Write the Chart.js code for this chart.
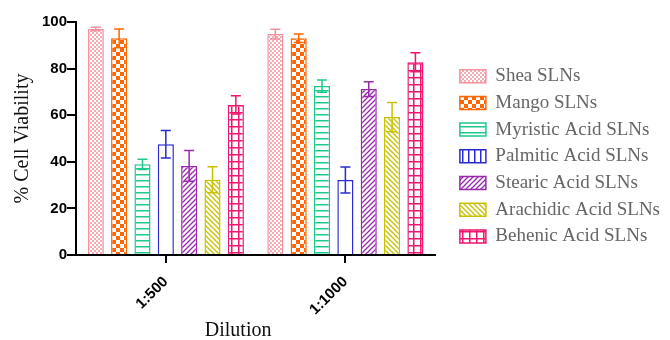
<!DOCTYPE html>
<html><head><meta charset="utf-8">
<script src="https://cdn.jsdelivr.net/npm/chart.js@4"></script>
<style>html,body{margin:0;padding:0;background:#fff}#wrap{width:670px;height:340px}</style>
</head><body><div id="wrap"><canvas id="c" width="670" height="340"></canvas></div>
<script>
const categories = ['1:500', '1:1000'];
const seriesNames = ['Shea SLNs','Mango SLNs','Myristic Acid SLNs','Palmitic Acid SLNs','Stearic Acid SLNs','Arachidic Acid SLNs','Behenic Acid SLNs'];
const shea = [97.0, 94.8];
const mango = [93.0, 93.0];
const myristic = [38.9, 72.5];
const palmitic = [47.5, 32.2];
const stearic = [38.2, 71.2];
const arachidic = [32.3, 59.2];
const behenic = [64.4, 82.7];
const sheaErr = [0.8, 2.1];
const mangoErr = [4.0, 1.8];
const myristicErr = [2.2, 2.6];
const palmiticErr = [5.9, 5.6];
const stearicErr = [6.6, 3.2];
const arachidicErr = [5.6, 6.3];
const behenicErr = [3.9, 4.1];
const yTicks = [0, 20, 40, 60, 80, 100];

function mk(w, h, draw) {
  const c = document.createElement('canvas'); c.width = w; c.height = h;
  const x = c.getContext('2d'); x.fillStyle = '#fff'; x.fillRect(0, 0, w, h);
  draw(x); return x.createPattern(c, 'repeat');
}
const ctx0 = document.getElementById('c').getContext('2d');
const styles = [
  {col:'#f4919c', pat: mk(4,4,x=>{x.fillStyle='#f6aab2';x.fillRect(0,0,2,2);x.fillRect(2,2,2,2);})},
  {col:'#ff6600', pat: mk(8,8,x=>{x.fillStyle='#ff6600';x.fillRect(0,0,4,4);x.fillRect(4,4,4,4);})},
  {col:'#1ec98a', pat: mk(6,6,x=>{x.fillStyle='#1ec98a';x.fillRect(0,0,6,1.5);})},
  {col:'#2a2ad0', pat: mk(40,6,x=>{}), leg: mk(6.5,6,x=>{x.fillStyle='#2a2ad0';x.fillRect(0,0,1.5,6);})},
  {col:'#9b27ae', pat: mk(5,5,x=>{x.strokeStyle='#9b27ae';x.lineWidth=1.3;x.beginPath();x.moveTo(0,5);x.lineTo(5,0);x.moveTo(-1,1);x.lineTo(1,-1);x.moveTo(4,6);x.lineTo(6,4);x.stroke();})},
  {col:'#c9c000', pat: mk(5,5,x=>{x.strokeStyle='#c9c000';x.lineWidth=1.3;x.beginPath();x.moveTo(0,0);x.lineTo(5,5);x.moveTo(4,-1);x.lineTo(6,1);x.moveTo(-1,4);x.lineTo(1,6);x.stroke();})},
  {col:'#ee1670', pat: mk(7,7,x=>{x.fillStyle='#ee1670';x.fillRect(0,0,7,1.5);x.fillRect(0,0,1.5,7);})}
];
const vals = [shea, mango, myristic, palmitic, stearic, arachidic, behenic];
const errs = [sheaErr, mangoErr, myristicErr, palmiticErr, stearicErr, arachidicErr, behenicErr];

const datasets = seriesNames.map((n,i)=>({
  label: n, data: vals[i], errors: errs[i],
  backgroundColor: styles[i].pat, borderColor: styles[i].col, borderWidth: 1.5,
  barPercentage: 0.69, categoryPercentage: 0.91
}));

const errPlugin = {
  id: 'errbars',
  afterDatasetsDraw(chart) {
    const c = chart.ctx, ys = chart.scales.y;
    chart.data.datasets.forEach((ds, di) => {
      const meta = chart.getDatasetMeta(di);
      meta.data.forEach((el, j) => {
        const v = ds.data[j], e = ds.errors[j];
        const yt = ys.getPixelForValue(v + e), yb = ys.getPixelForValue(v - e);
        c.save(); c.strokeStyle = ds.borderColor; c.lineWidth = 1.5;
        c.beginPath();
        c.moveTo(el.x, yt); c.lineTo(el.x, yb);
        c.moveTo(el.x - 5, yt); c.lineTo(el.x + 5, yt);
        c.moveTo(el.x - 5, yb); c.lineTo(el.x + 5, yb);
        c.stroke(); c.restore();
      });
    });
  }
};

new Chart(ctx0, {
  type: 'bar',
  data: { labels: categories, datasets },
  options: {
    responsive: false, animation: false,
    layout: { padding: { left: 2, top: 22, right: 0, bottom: 0 } },
    plugins: {
      tooltip: { enabled: false },
      legend: {
        position: 'right', align: 'start', maxWidth: 260,
        title: { display: true, text: ' ', font: { size: 10, lineHeight: 1 }, padding: { top: 27, bottom: 0 } },
        labels: {
          boxWidth: 26, boxHeight: 13, padding: 7.7, color: '#111',
          font: { family: 'Liberation Serif', size: 19 },
          generateLabels(chart) {
            return chart.data.datasets.map((ds, i) => ({
              text: ds.label, fillStyle: styles[i].leg || styles[i].pat,
              strokeStyle: styles[i].col, lineWidth: 1.5, datasetIndex: i, hidden: false
            }));
          }
        }
      }
    },
    scales: {
      x: {
        offset: true,
        afterFit(s) { s.height = 85; },
        grid: { offset: false, drawOnChartArea: false, drawTicks: true, tickLength: 8, color: '#000', lineWidth: 2 },
        border: { display: true, color: '#000', width: 2 },
        ticks: { minRotation: 45, maxRotation: 45, color: '#000', font: { family: 'Liberation Sans', size: 15, weight: 'bold' }, padding: 10 },
        title: { display: true, text: 'Dilution\u00a0\u00a0\u00a0\u00a0\u00a0\u00a0\u00a0', color: '#111', font: { family: 'Liberation Serif', size: 20, lineHeight: 0.9 }, padding: { top: 3, bottom: 0 } }
      },
      y: {
        min: 0, max: 100,
        afterBuildTicks(s) { s.ticks = yTicks.map(v => ({ value: v })); },
        grid: { drawOnChartArea: false, drawTicks: true, tickLength: 9, color: '#000', lineWidth: 2 },
        border: { display: true, color: '#000', width: 2 },
        ticks: { color: '#000', font: { family: 'Liberation Sans', size: 15, weight: 'bold' }, padding: 0 },
        title: { display: true, text: '% Cell Viability', color: '#111', font: { family: 'Liberation Serif', size: 20 }, padding: { top: 9, bottom: 7 } }
      },
      gap: {
        type: 'linear', position: 'right', display: true,
        grid: { display: false, drawTicks: false }, border: { display: false },
        ticks: { display: false },
        afterFit(s) { s.width = 17; }
      }
    }
  },
  plugins: [errPlugin]
});
</script></body></html>
